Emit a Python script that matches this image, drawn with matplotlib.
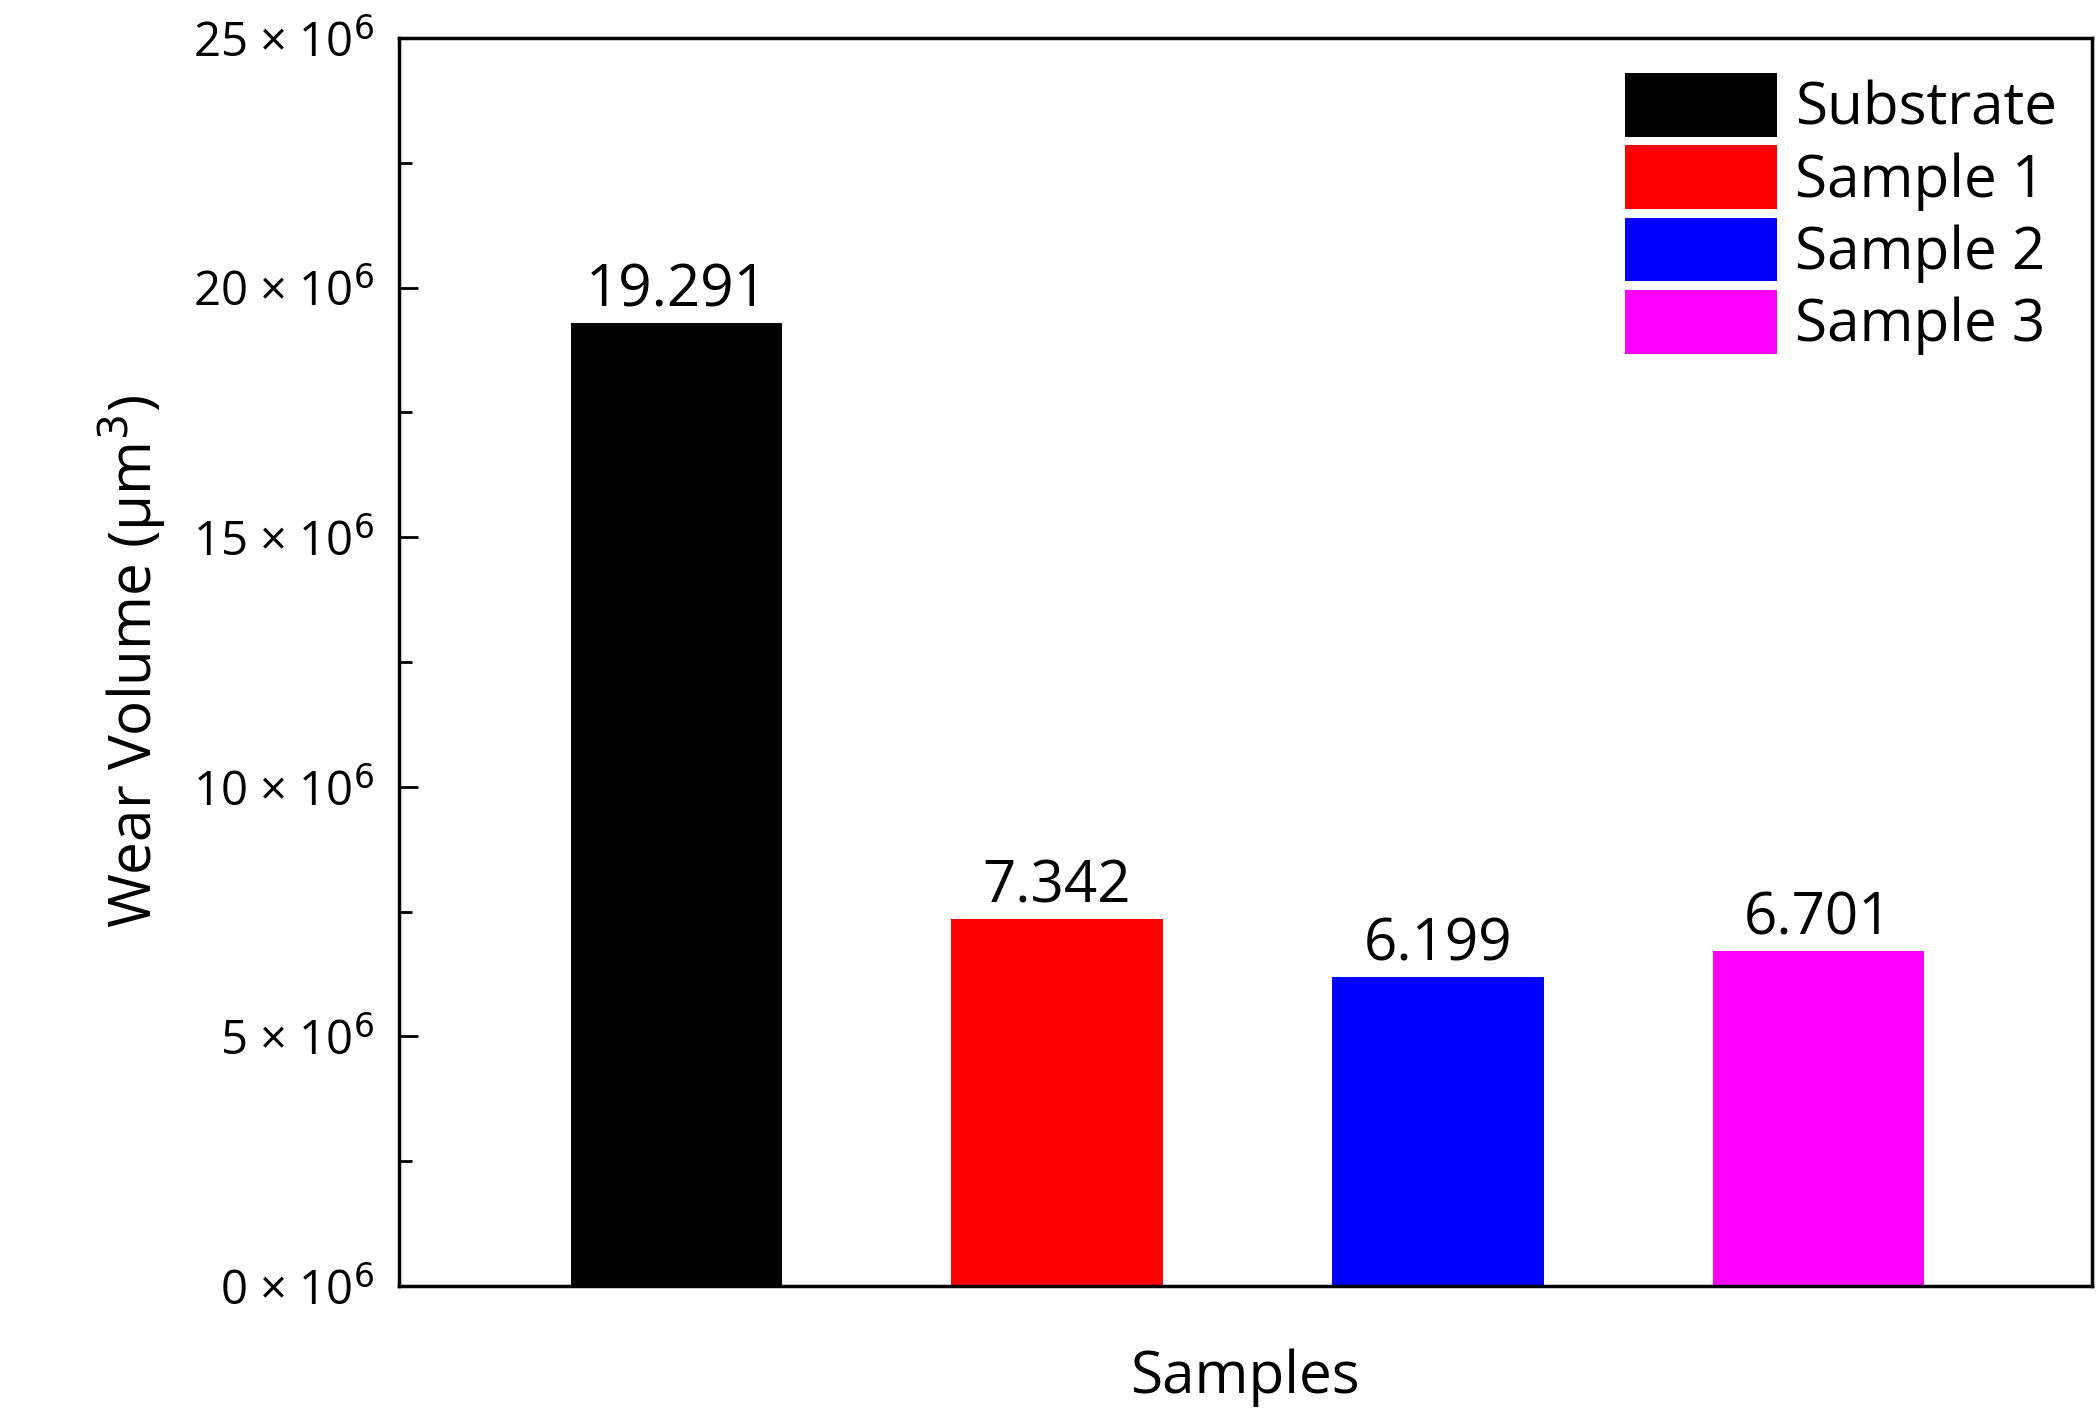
import matplotlib
matplotlib.use("Agg")
import matplotlib.pyplot as plt
from matplotlib.ticker import MultipleLocator, FuncFormatter

plt.rcParams['font.family'] = ['Open Sans', 'DejaVu Sans']

categories = ["Substrate", "Sample 1", "Sample 2", "Sample 3"]
values = [19.291e6, 7.342e6, 6.199e6, 6.701e6]
labels = ["19.291", "7.342", "6.199", "6.701"]
colors = ["#000000", "#ff0000", "#0000ff", "#ff00ff"]

fig = plt.figure(figsize=(21, 14.1), dpi=100)
ax = fig.add_axes([0.190, 0.088, 0.806, 0.885])
x = list(range(len(categories)))
bars = ax.bar(x, values, width=0.556, color=colors, label=categories)
for xi, v, t in zip(x, values, labels):
    ax.text(xi, v + 0.05e6, t, ha='center', va='bottom', fontsize=42)

ax.set_xlim(-0.729, 3.718)
ax.set_ylim(0, 25e6)
ax.set_xticks([])
ax.yaxis.set_major_locator(MultipleLocator(5e6))
ax.yaxis.set_minor_locator(MultipleLocator(2.5e6))
ax.yaxis.set_major_formatter(FuncFormatter(lambda v, p: f"{int(round(v/1e6))} × 10$^{{6}}$"))
ax.tick_params(axis='y', which='both', direction='in', labelsize=34, pad=18)
ax.tick_params(axis='y', which='major', length=14, width=2)
ax.tick_params(axis='y', which='minor', length=9, width=2)
for s in ax.spines.values():
    s.set_linewidth(2.5)
ax.set_xlabel("Samples", fontsize=42, labelpad=45)
ax.set_ylabel("Wear Volume (µm$^3$)", fontsize=42, labelpad=18)
ax.legend(loc='upper right', fontsize=42, frameon=False, handlelength=2.6,
          handleheight=1.3, handletextpad=0.3, labelspacing=0.12,
          borderaxespad=0.2)
fig.savefig("out.png", dpi=100)
